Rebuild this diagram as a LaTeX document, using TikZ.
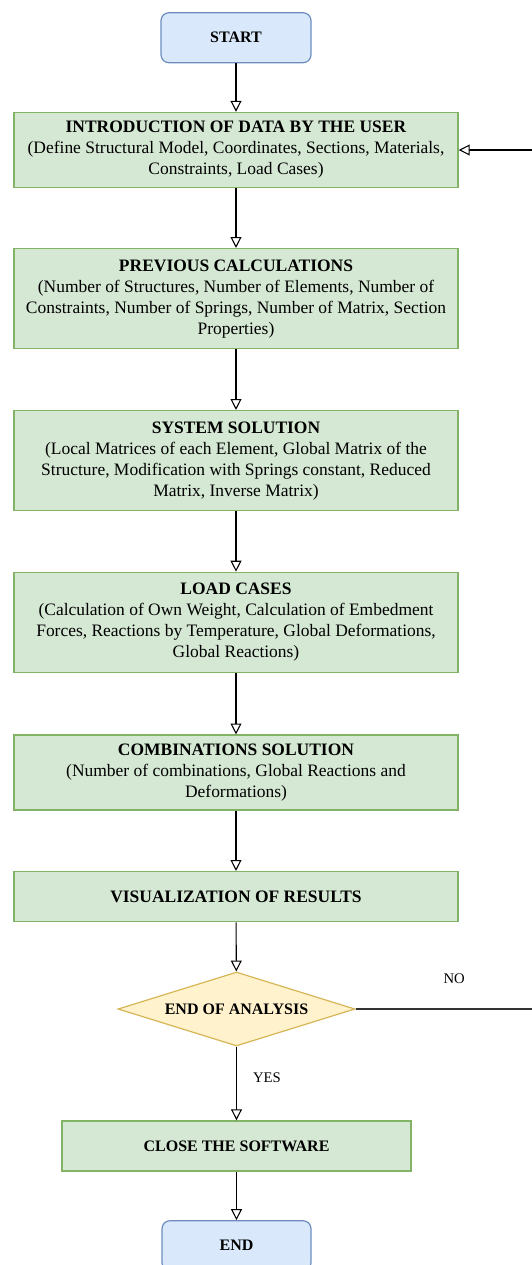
\documentclass[tikz,border=0pt]{standalone}
\usepackage{fontspec}
\setmainfont{Liberation Serif}
\usetikzlibrary{arrows.meta,shapes.geometric}
\definecolor{gfill}{HTML}{D5E8D4}
\definecolor{gline}{HTML}{82B366}
\definecolor{bfill}{HTML}{DAE8FC}
\definecolor{bline}{HTML}{6C8EBF}
\definecolor{yfill}{HTML}{FFF2CC}
\definecolor{yline}{HTML}{D6B656}
\definecolor{noline}{HTML}{333333}
\tikzset{
  procbox/.style={draw=gline, fill=gfill, line width=1.1pt, align=center, inner sep=2pt,
    minimum width=333pt, font=\fontsize{13.1}{15.75}\selectfont},
  termbox/.style={draw=bline, fill=bfill, line width=0.9pt, rounded corners=6pt, align=center,
    minimum height=37.5pt, font=\fontsize{12}{15}\selectfont\bfseries},
  decbox/.style={diamond, aspect=3.2, draw=yline, fill=yfill, line width=0.9pt, inner sep=0pt,
    minimum width=177.75pt, minimum height=55.5pt, font=\fontsize{12}{15}\selectfont\bfseries},
  arr/.style={draw=black, line width=0.8pt, -{Triangle[length=8.2pt,width=8.2pt,fill=white,line width=0.8pt]}},
  lbl/.style={font=\fontsize{11}{13}\selectfont, inner sep=0pt}
}
\begin{document}
\begin{tikzpicture}[x=0.75pt,y=-0.75pt]
\useasboundingbox (0,0) rectangle (532,1265);
\clip (0,0) rectangle (532,1265);
\fill[white] (0,0) rectangle (532,1265);

\node[termbox, minimum width=112.5pt] (start) at (236,37.7) {START};

\node[procbox, minimum height=56.25pt] (intro) at (236,150) {\textbf{INTRODUCTION OF DATA BY THE USER}\\(Define Structural Model, Coordinates, Sections, Materials,\\Constraints, Load Cases)};

\node[procbox, minimum height=75pt] (prev) at (236,298.7) {\textbf{PREVIOUS CALCULATIONS}\\(Number of Structures, Number of Elements, Number of\\Constraints, Number of Springs, Number of Matrix, Section\\Properties)};

\node[procbox, minimum height=75pt] (sys) at (236,460.7) {\textbf{SYSTEM SOLUTION}\\(Local Matrices of each Element, Global Matrix of the\\Structure, Modification with Springs constant, Reduced\\Matrix, Inverse Matrix)};

\node[procbox, minimum height=75pt] (load) at (236,622.4) {\textbf{LOAD CASES}\\(Calculation of Own Weight, Calculation of Embedment\\Forces, Reactions by Temperature, Global Deformations,\\Global Reactions)};

\node[procbox, minimum height=56pt] (comb) at (236,772.5) {\textbf{COMBINATIONS SOLUTION}\\(Number of combinations, Global Reactions and\\Deformations)};

\node[procbox, minimum height=37.5pt] (vis) at (236,896.7) {\textbf{VISUALIZATION OF RESULTS}};

\node[decbox] (dec) at (236.5,1009) {END OF ANALYSIS};

\node[procbox, minimum width=261.75pt, minimum height=37.5pt, font=\fontsize{12}{15}\selectfont] (close) at (236.5,1146) {\textbf{CLOSE THE SOFTWARE}};

\node[termbox, minimum width=111.75pt] (end) at (236.5,1245.7) {END};

\coordinate (fbin) at (545,150);
\coordinate (noout) at (545,1009);

\draw[arr] (start) -- (intro);
\draw[arr] (intro) -- (prev);
\draw[arr] (prev) -- (sys);
\draw[arr] (sys) -- (load);
\draw[arr] (load) -- (comb);
\draw[arr] (comb) -- (vis);
\draw[arr] (vis) -- (dec);
\draw[arr] (dec) -- node[lbl, pos=0.42, right=12pt] (yes) {YES} (close);
\draw[arr] (close) -- (end);
\draw[arr] (fbin) -- (intro.east);
\draw[draw=noline, line width=1.4pt] (dec.east) -- node[lbl, pos=0.52, above=18pt] (no) {NO} (noout);
\end{tikzpicture}
\end{document}
